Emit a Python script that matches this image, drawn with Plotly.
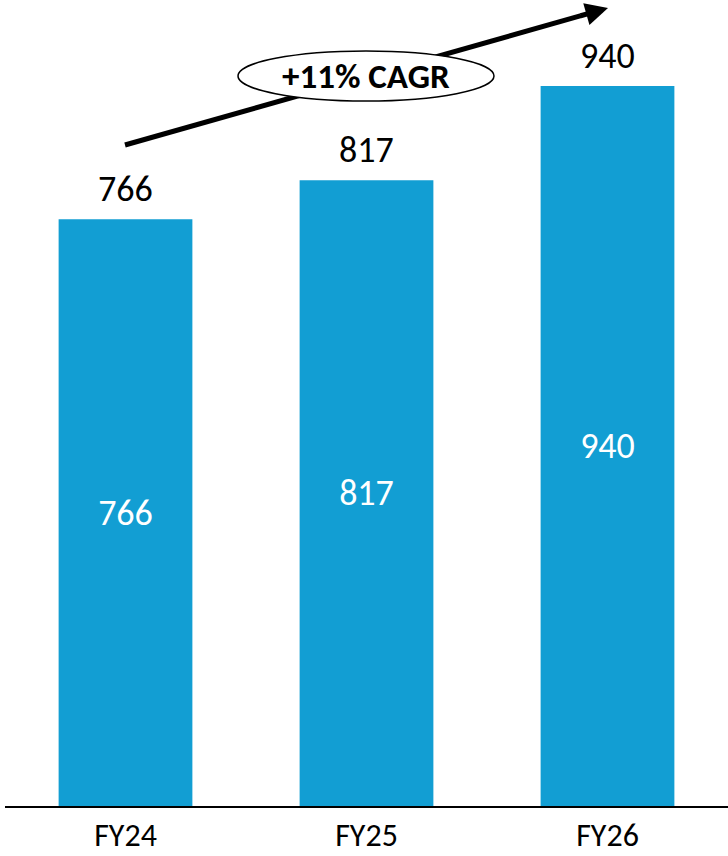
import plotly.graph_objects as go
import math

categories = ["FY24", "FY25", "FY26"]
values = [766, 817, 940]
cagr_label = "+11% CAGR"

BAR_COLOR = "#129ED3"
FONT = "Carlito, Calibri, Lato, sans-serif"

W, H = 728, 856
ML, MR, MT, MB = 5, 0, 0, 50
PW, PH = W - ML - MR, H - MT - MB


def px(x):
    return (x - ML) / PW


def py(y):
    return (MT + PH - y) / PH


fig = go.Figure()
fig.add_trace(go.Bar(
    x=categories, y=values,
    marker=dict(color=BAR_COLOR, line=dict(width=0)),
    text=[str(v) for v in values],
    textposition="inside", insidetextanchor="middle",
    textfont=dict(color="white", size=36, family=FONT),
    constraintext="none",
    hoverinfo="skip",
))

annotations = []
for c, v in zip(categories, values):
    annotations.append(dict(x=c, y=v, xref="x", yref="y", text=str(v),
                            showarrow=False, yanchor="bottom", yshift=6,
                            font=dict(size=36, color="black", family=FONT)))

# CAGR arrow: line shape + arrowhead annotation
x0, y0 = 125, 145
x1, y1 = 608, 8
L = math.hypot(x1 - x0, y1 - y0)
ux, uy = (x1 - x0) / L, (y1 - y0) / L
tail = 30
shapes = [
    dict(type="line", xref="paper", yref="paper",
         x0=px(x0), y0=py(y0), x1=px(x1 - ux * (tail - 2)), y1=py(y1 - uy * (tail - 2)),
         line=dict(color="black", width=5), layer="above"),
    dict(type="circle", xref="paper", yref="paper",
         x0=px(238), x1=px(494), y0=py(101), y1=py(51),
         fillcolor="white", line=dict(color="black", width=1.5), layer="above"),
]
annotations.append(dict(x=px(x1), y=py(y1), xref="paper", yref="paper",
                        ax=-ux * tail, ay=-uy * tail, axref="pixel", ayref="pixel",
                        showarrow=True, arrowhead=2, arrowsize=0.9, arrowwidth=5,
                        arrowcolor="black", text="", standoff=0))
annotations.append(dict(x=px(366), y=py(76), xref="paper", yref="paper",
                        xanchor="center", yanchor="middle",
                        text="<b>" + cagr_label + "</b>", showarrow=False,
                        font=dict(size=35, color="black", family=FONT)))

fig.update_layout(
    width=W, height=H,
    margin=dict(l=ML, r=MR, t=MT, b=MB, autoexpand=False),
    paper_bgcolor="white", plot_bgcolor="white",
    bargap=0.445,
    showlegend=False,
    shapes=shapes, annotations=annotations,
    xaxis=dict(showline=True, linecolor="black", linewidth=2,
               showgrid=False, zeroline=False, ticks="",
               tickfont=dict(size=32, color="black", family=FONT),
               ticklabelstandoff=0, automargin=False),
    yaxis=dict(visible=False, range=[0, 806 / 0.766], showgrid=False, zeroline=False,
               automargin=False),
)

fig.write_html("out.html", config={"displayModeBar": False},
               post_script="document.body.style.margin='0';document.body.style.overflow='hidden';")
